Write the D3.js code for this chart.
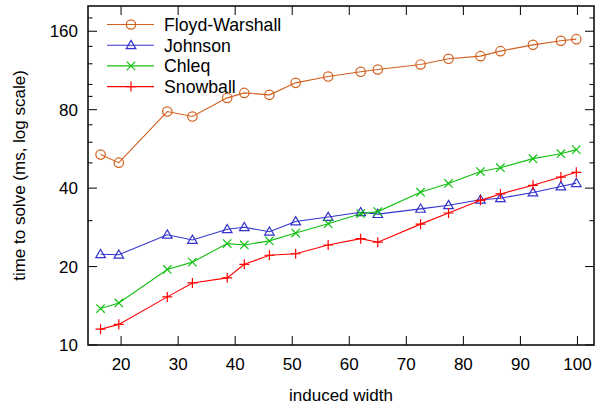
<!DOCTYPE html>
<html>
<head>
<meta charset="utf-8">
<script src="https://cdn.jsdelivr.net/npm/d3@7"></script>
<style>
  body { margin: 0; background: #fff; }
  text { font-family: "Liberation Sans", Arial, sans-serif; fill: #000; }
</style>
</head>
<body>
<div id="chart"></div>
<script>
// DATA
var widths = [16.4, 19.6, 28.1, 32.5, 38.6, 41.6, 46.0, 50.6, 56.3, 62.0, 65.0, 72.5, 77.4, 83.0, 86.5, 92.2, 97.1, 99.8];
var floyd = [53.8, 50.1, 78.7, 75.3, 88.8, 92.8, 91.2, 101.4, 107.2, 111.8, 114.1, 119.3, 125.4, 128.4, 134.2, 141.9, 147.1, 149.2];
var johnson = [22.3, 22.2, 26.5, 25.3, 27.8, 28.3, 27.2, 29.8, 31.0, 32.3, 31.8, 33.3, 34.4, 36.1, 36.6, 38.5, 40.6, 41.8];
var chleq = [13.8, 14.5, 19.5, 20.8, 24.5, 24.2, 25.1, 26.9, 29.2, 31.9, 32.5, 38.6, 41.7, 46.3, 47.9, 51.9, 54.2, 56.2];
var snowball = [11.5, 12.0, 15.3, 17.3, 18.1, 20.4, 22.1, 22.4, 24.2, 25.6, 24.8, 29.1, 32.1, 35.9, 38.0, 41.0, 44.1, 46.0];
var seriesNames = ["Floyd-Warshall", "Johnson", "Chleq", "Snowball"];
var xTicks = [20, 30, 40, 50, 60, 70, 80, 90, 100];
var yTicks = [10, 20, 40, 80, 160];
var yMinor = [30, 50, 60, 70, 90, 100, 120, 140, 180];

var width = 595, height = 409;
var margin = {left: 88, right: 1, top: 6, bottom: 64};

var svg = d3.select('#chart').append('svg')
  .attr('width', width).attr('height', height);

var x = d3.scaleLinear().domain([14.2, 102.9]).range([margin.left, width - margin.right]);
var y = d3.scaleLog().domain([10, 200]).range([height - margin.bottom, margin.top]);

var series = [
  {name: seriesNames[0], vals: floyd, color: '#d2601e', marker: 'circle'},
  {name: seriesNames[1], vals: johnson, color: '#3333cc', marker: 'triangle'},
  {name: seriesNames[2], vals: chleq, color: '#11c011', marker: 'cross'},
  {name: seriesNames[3], vals: snowball, color: '#ff0000', marker: 'plus'}
];

var x0 = margin.left, x1 = width - margin.right, y0 = height - margin.bottom, y1 = margin.top;

// ticks (inward, mirrored)
var tickG = svg.append('g').attr('stroke', '#000').attr('stroke-width', 1);
xTicks.forEach(function (t) {
  tickG.append('line').attr('x1', x(t)).attr('x2', x(t)).attr('y1', y0).attr('y2', y0 - 9);
  tickG.append('line').attr('x1', x(t)).attr('x2', x(t)).attr('y1', y1).attr('y2', y1 + 9);
  svg.append('text').attr('x', x(t)).attr('y', y0 + 25).attr('text-anchor', 'middle')
    .attr('font-size', 17).text(t);
});
yTicks.forEach(function (t) {
  tickG.append('line').attr('x1', x0).attr('x2', x0 + 9).attr('y1', y(t)).attr('y2', y(t));
  tickG.append('line').attr('x1', x1).attr('x2', x1 - 9).attr('y1', y(t)).attr('y2', y(t));
  svg.append('text').attr('x', x0 - 10).attr('y', y(t)).attr('dy', '0.36em').attr('text-anchor', 'end')
    .attr('font-size', 17).text(t);
});
yMinor.forEach(function (t) {
  tickG.append('line').attr('x1', x0).attr('x2', x0 + 4.5).attr('y1', y(t)).attr('y2', y(t));
  tickG.append('line').attr('x1', x1).attr('x2', x1 - 4.5).attr('y1', y(t)).attr('y2', y(t));
});

// frame
svg.append('rect').attr('x', x0).attr('y', y1).attr('width', x1 - x0).attr('height', y0 - y1)
  .attr('fill', 'none').attr('stroke', '#111').attr('stroke-width', 1.6);

// axis titles
svg.append('text').attr('x', (x0 + x1) / 2).attr('y', 401).attr('text-anchor', 'middle')
  .attr('font-size', 17).text('induced width');
svg.append('text').attr('transform', 'translate(25,' + ((y0 + y1) / 2) + ') rotate(-90)')
  .attr('text-anchor', 'middle').attr('font-size', 17).text('time to solve (ms, log scale)');

function drawMarker(g, type, cx, cy, color) {
  if (type === 'circle') {
    g.append('circle').attr('cx', cx).attr('cy', cy).attr('r', 4.7)
      .attr('fill', 'none').attr('stroke', color).attr('stroke-width', 1.2);
  } else if (type === 'triangle') {
    g.append('path').attr('d', 'M' + cx + ',' + (cy - 4.8) + 'L' + (cx + 4.8) + ',' + (cy + 3.4) + 'L' + (cx - 4.8) + ',' + (cy + 3.4) + 'Z')
      .attr('fill', 'none').attr('stroke', color).attr('stroke-width', 1.2);
  } else if (type === 'cross') {
    var s = 4.2;
    g.append('path').attr('d', 'M' + (cx - s) + ',' + (cy - s) + 'L' + (cx + s) + ',' + (cy + s) + 'M' + (cx - s) + ',' + (cy + s) + 'L' + (cx + s) + ',' + (cy - s))
      .attr('stroke', color).attr('stroke-width', 1.2);
  } else {
    var p = 5;
    g.append('path').attr('d', 'M' + (cx - p) + ',' + cy + 'L' + (cx + p) + ',' + cy + 'M' + cx + ',' + (cy - p) + 'L' + cx + ',' + (cy + p))
      .attr('stroke', color).attr('stroke-width', 1.2);
  }
}

var line = d3.line().x(function (d) { return x(d[0]); }).y(function (d) { return y(d[1]); });

series.forEach(function (s) {
  var pts = widths.map(function (w, i) { return [w, s.vals[i]]; });
  var g = svg.append('g');
  g.append('path').datum(pts).attr('d', line).attr('fill', 'none')
    .attr('stroke', s.color).attr('stroke-width', 1.1);
  pts.forEach(function (p) { drawMarker(g, s.marker, x(p[0]), y(p[1]), s.color); });
});

// legend
var legend = svg.append('g');
series.forEach(function (s, i) {
  var ly = 24.5 + i * 20.7;
  legend.append('line').attr('x1', 107).attr('x2', 154).attr('y1', ly).attr('y2', ly)
    .attr('stroke', s.color).attr('stroke-width', 1.1);
  drawMarker(legend, s.marker, 131, ly, s.color);
  legend.append('text').attr('x', 164).attr('y', ly).attr('dy', '0.36em')
    .attr('font-size', 17.7).text(s.name);
});
</script>
</body>
</html>
